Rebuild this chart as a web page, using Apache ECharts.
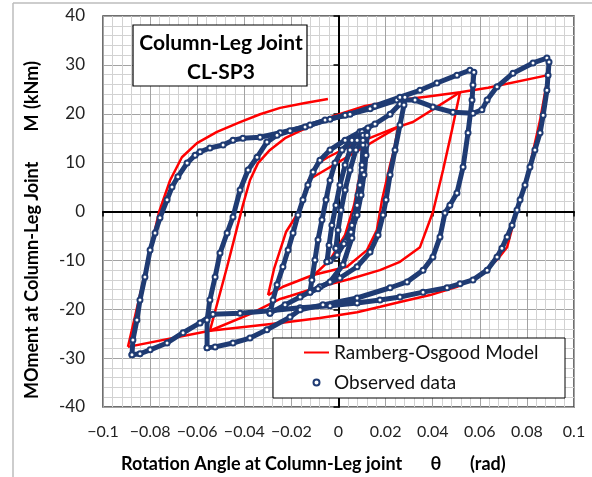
<!DOCTYPE html>
<html>
<head>
<meta charset="utf-8">
<script src="https://cdn.jsdelivr.net/npm/echarts@6/dist/echarts.min.js"></script>
<style>
  html, body { margin: 0; padding: 0; background: #fff; }
  #chart { width: 592px; height: 477px; }
</style>
</head>
<body>
<div id="chart"></div>
<script>
// axis ticks
const thetaTickLabels = ['\u22120.1', '\u22120.08', '\u22120.06', '\u22120.04', '\u22120.02', '0', '0.02', '0.04', '0.06', '0.08', '0.1']
const momentTickLabels = ['-40', '-30', '-20', '-10', '0', '10', '20', '30', '40']

// Ramberg-Osgood model branches [theta (rad), M (kNm)]
const modelOuterLoading = [[-0.0894, -27.7], [-0.083, -14.4], [-0.0762, -0.1], [-0.0715, 6.4], [-0.0665, 11.1], [-0.0601, 14.0], [-0.0516, 16.3], [-0.0418, 18.3], [-0.0333, 19.9], [-0.0248, 21.2], [-0.0142, 22.2], [-0.0045, 23.0]]
const modelOuterUnloading = [[0.089, 27.9], [0.0856, 18.7], [0.0813, 9.5], [0.0758, 0.3], [0.0716, -7.3], [0.0673, -9.9], [0.0601, -13.0], [0.0503, -15.4], [0.0389, -17.1], [0.0261, -18.5], [0.0177, -19.5], [0.0079, -20.6], [-0.0079, -21.8], [-0.0248, -22.8], [-0.0546, -24.4], [-0.0894, -27.7]]
const modelMidLoading = [[-0.0546, -24.4], [-0.0473, -11.3], [-0.0406, 1.3], [-0.0376, 6.4], [-0.0342, 9.9], [-0.0291, 12.6], [-0.0227, 15.0], [-0.0163, 16.5], [-0.0023, 19.5], [0.0113, 21.6], [0.0261, 22.8], [0.0389, 23.6], [0.0516, 24.4], [0.0635, 25.3], [0.089, 27.9]]
const modelMidUnloading = [[0.0516, 24.4], [0.0482, 16.7], [0.0444, 8.5], [0.0401, -0.1], [0.0346, -7.3], [0.0261, -10.3], [0.0176, -12.0], [0.0049, -13.8], [-0.0079, -15.4], [-0.0206, -17.3], [-0.0248, -17.9], [-0.0376, -21.0], [-0.0546, -24.4]]
const modelSmallLoading = [[-0.0299, -17.1], [-0.0274, -11.8], [-0.0223, -4.2], [-0.0172, -0.3], [-0.013, 6.0], [-0.0087, 9.9], [-0.0045, 11.1], [0.0057, 13.6], [0.0142, 15.2], [0.024, 17.1], [0.0316, 18.3], [0.0418, 21.4], [0.0516, 24.4]]
const modelSmallUnloading = [[0.0253, 17.3], [0.0236, 12.6], [0.0219, 9.5], [0.0185, 2.4], [0.0163, -3.8], [0.0121, -7.9], [0.0036, -11.3], [-0.0108, -13.0], [-0.0236, -15.4], [-0.0299, -17.1]]
const modelChord = [[0.0253, 17.3], [-0.013, 6.4]]
const modelInnerUnloading = [[0.0117, 13.6], [0.0091, 7.5], [0.0066, 1.3], [0.0028, -4.8], [-0.0036, -9.9], [-0.0117, -13.6]]

// observed data, one array per cycle
const obsCycle5 = [[-0.0877, -29.3], [-0.0873, -26.3], [-0.0856, -22.2], [-0.0843, -18.1], [-0.0822, -13.4], [-0.08, -7.9], [-0.0779, -4.4], [-0.0758, -1.3], [-0.0728, 2.4], [-0.0707, 5.0], [-0.0682, 7.1], [-0.0643, 9.9], [-0.0609, 11.5], [-0.0588, 12.2], [-0.0546, 13.0], [-0.049, 13.6], [-0.0448, 14.6], [-0.0406, 15.0], [-0.0333, 15.2], [-0.0248, 16.1], [-0.0142, 17.3], [-0.0057, 18.7], [0.0028, 19.7], [0.0134, 21.0], [0.0248, 22.8], [0.0325, 22.8], [0.0401, 21.4], [0.0486, 20.3], [0.0571, 20.1], [0.0609, 20.8], [0.0631, 22.8], [0.0673, 25.5], [0.0741, 28.3], [0.0826, 30.4], [0.0885, 31.4], [0.0894, 30.6], [0.089, 27.9], [0.0885, 24.8], [0.0869, 19.7], [0.0856, 16.1], [0.0834, 12.6], [0.0813, 9.1], [0.0792, 5.4], [0.0771, 2.4], [0.0758, 0.3], [0.0737, -2.8], [0.0716, -5.2], [0.0694, -7.5], [0.0673, -9.3], [0.0631, -12.0], [0.0571, -14.0], [0.0516, -14.8], [0.0461, -15.6], [0.0359, -16.5], [0.0261, -17.5], [0.0176, -18.1], [0.0079, -18.7], [-0.0036, -19.3], [-0.0163, -19.7], [-0.0291, -20.3], [-0.0418, -20.8], [-0.0533, -21.0], [-0.0588, -22.8], [-0.066, -24.8], [-0.0728, -26.9], [-0.08, -28.3], [-0.0843, -29.1], [-0.0877, -29.3]]
const obsCycle4 = [[-0.0558, -27.9], [-0.0558, -22.2], [-0.0546, -18.1], [-0.0524, -13.4], [-0.0503, -8.5], [-0.0473, -4.4], [-0.0448, -1.1], [-0.0418, 4.4], [-0.0384, 8.5], [-0.0346, 11.1], [-0.0304, 14.2], [-0.0261, 15.6], [-0.0206, 16.5], [-0.0121, 17.7], [-0.0036, 18.9], [0.0049, 19.9], [0.0155, 21.6], [0.0261, 23.4], [0.0346, 24.8], [0.0418, 26.3], [0.0503, 27.9], [0.0558, 28.9], [0.0575, 28.5], [0.0571, 25.9], [0.0567, 22.8], [0.055, 16.1], [0.0529, 9.1], [0.0503, 3.8], [0.0473, 1.3], [0.0452, -0.3], [0.0431, -5.2], [0.0401, -9.3], [0.0359, -12.0], [0.0291, -14.4], [0.0219, -15.6], [0.0079, -17.7], [-0.0066, -19.1], [-0.0163, -20.1], [-0.0206, -21.6], [-0.0304, -24.2], [-0.0376, -25.9], [-0.0448, -26.9], [-0.0524, -27.7], [-0.0558, -27.9]]
const obsCycle3 = [[-0.0291, -20.8], [-0.0278, -18.1], [-0.0261, -15.0], [-0.0236, -11.3], [-0.0214, -7.9], [-0.0193, -4.4], [-0.0172, -0.7], [-0.0151, 2.4], [-0.013, 5.4], [-0.0108, 8.1], [-0.0079, 10.5], [-0.0036, 12.6], [0.0028, 14.6], [0.0091, 16.3], [0.0155, 17.9], [0.0219, 19.9], [0.0261, 22.0], [0.0282, 23.4], [0.0278, 21.8], [0.0261, 17.7], [0.024, 12.6], [0.0219, 7.5], [0.0202, 2.4], [0.0189, -0.7], [0.0168, -4.8], [0.0134, -8.3], [0.0079, -11.3], [0.0006, -13.6], [-0.0079, -15.4], [-0.0163, -17.5], [-0.0227, -19.1], [-0.0291, -20.8]]
const obsCycle2 = [[-0.0121, -16.5], [-0.0113, -14.0], [-0.01, -9.9], [-0.0087, -5.8], [-0.007, -1.7], [-0.0053, 2.4], [-0.0036, 6.4], [-0.0015, 9.9], [0.0015, 12.6], [0.0057, 14.6], [0.01, 16.3], [0.0125, 17.1], [0.0117, 13.6], [0.01, 8.5], [0.0083, 3.4], [0.007, -0.7], [0.0057, -5.4], [0.0019, -10.9], [-0.0036, -14.4], [-0.0087, -15.8], [-0.0121, -16.5]]
const obsCycle1a = [[-0.0049, -10.3], [-0.004, -6.9], [-0.0028, -2.8], [-0.0011, 1.3], [0.0006, 5.4], [0.0028, 9.5], [0.0049, 12.6], [0.0079, 14.6], [0.0104, 15.6], [0.0104, 13.6], [0.01, 9.5], [0.0091, 5.4], [0.0079, 1.3], [0.0057, -2.8], [0.0028, -6.2], [-0.0006, -8.9], [-0.0036, -10.1], [-0.0049, -10.3]]
const obsCycle1b = [[-0.0011, -7.5], [-0.0002, -3.8], [0.0011, 0.3], [0.0028, 4.4], [0.0049, 8.5], [0.0074, 12.6], [0.0104, 14.6], [0.0121, 15.6], [0.0117, 11.5], [0.0108, 7.5], [0.0096, 3.4], [0.0079, -0.7], [0.0053, -4.2], [0.0023, -6.6], [-0.0011, -7.5]]

const modelBranches = [modelOuterLoading, modelOuterUnloading, modelMidLoading, modelMidUnloading,
  modelSmallLoading, modelSmallUnloading, modelChord, modelInnerUnloading]
const obsCycles = [obsCycle5, obsCycle4, obsCycle3, obsCycle2, obsCycle1a, obsCycle1b]

const RED = '#FF0000'
const NAVY = '#1F3B73'
const FONT = 'Lato'

const chart = echarts.init(document.getElementById('chart'), null, { renderer: 'canvas' })

const series = []
modelBranches.forEach(d => {
  series.push({
    name: 'Ramberg-Osgood Model',
    type: 'line',
    data: d,
    symbol: 'none',
    lineStyle: { color: RED, width: 2.5 },
    itemStyle: { color: RED },
    z: 2,
    silent: true
  })
})
obsCycles.forEach(d => {
  series.push({
    name: 'Observed data',
    type: 'line',
    data: d,
    symbol: 'emptyCircle',
    symbolSize: 5,
    showAllSymbol: true,
    lineStyle: { color: NAVY, width: 5, join: 'round' },
    itemStyle: { color: NAVY, borderWidth: 1 },
    z: 3,
    silent: true
  })
})

chart.setOption({
  animation: false,
  grid: {
    left: 103,
    right: 18,
    top: 16,
    bottom: 70,
    show: true,
    backgroundColor: '#fff',
    borderColor: '#404040',
    borderWidth: 1.5
  },
  legend: {
    orient: 'vertical',
    left: 298,
    top: 338,
    itemWidth: 25,
    itemHeight: 6,
    itemGap: 11,
    z: 120,
    textStyle: { fontFamily: FONT, fontSize: 19, color: '#111' },
    data: [
      { name: 'Ramberg-Osgood Model', itemStyle: { opacity: 0 } },
      { name: 'Observed data', icon: 'emptyCircle', itemStyle: { borderWidth: 1.2 } }
    ]
  },
  xAxis: [{
    type: 'value',
    min: -0.1,
    max: 0.1,
    interval: 0.02,
    position: 'bottom',
    axisLine: { show: false, onZero: false },
    axisTick: { show: false },
    axisLabel: {
      margin: 17,
      fontFamily: FONT,
      fontSize: 16,
      color: '#222',
      formatter: v => thetaTickLabels[Math.round((v + 0.1) / 0.02)]
    },
    splitLine: { show: true, lineStyle: { color: '#a3a3a3', width: 1 } },
    minorTick: { show: false, splitNumber: 5 },
    minorSplitLine: { show: true, lineStyle: { color: '#d2d2d2', width: 1 } }
  }, {
    type: 'value',
    min: -0.1,
    max: 0.1,
    interval: 0.02,
    position: 'bottom',
    axisLine: { show: true, onZero: true, onZeroAxisIndex: 0, lineStyle: { color: '#000', width: 2 } },
    axisTick: { show: true, length: 5, lineStyle: { color: '#000', width: 1.5 } },
    axisLabel: { show: false },
    splitLine: { show: false }
  }],
  yAxis: [{
    type: 'value',
    min: -40,
    max: 40,
    interval: 10,
    position: 'left',
    axisLine: { show: false, onZero: false },
    axisTick: { show: false },
    axisLabel: {
      margin: 18,
      fontFamily: FONT,
      fontSize: 17,
      color: '#222',
      formatter: v => momentTickLabels[Math.round((v + 40) / 10)]
    },
    splitLine: { show: true, lineStyle: { color: '#a3a3a3', width: 1 } },
    minorTick: { show: false, splitNumber: 5 },
    minorSplitLine: { show: true, lineStyle: { color: '#d2d2d2', width: 1 } }
  }, {
    type: 'value',
    min: -40,
    max: 40,
    interval: 10,
    position: 'left',
    axisLine: { show: true, onZero: true, onZeroAxisIndex: 0, lineStyle: { color: '#000', width: 2 } },
    axisTick: { show: true, length: 5, lineStyle: { color: '#000', width: 1.5 } },
    axisLabel: { show: false },
    splitLine: { show: false }
  }],
  graphic: [
    // outer frame of the figure
    { type: 'line', z: 100, shape: { x1: 13, y1: 3, x2: 13, y2: 477 }, style: { stroke: '#bdbdbd', lineWidth: 1.5 } },
    { type: 'line', z: 100, shape: { x1: 13, y1: 3, x2: 592, y2: 3 }, style: { stroke: '#bdbdbd', lineWidth: 1.5 } },
    // title box
    { type: 'rect', z: 100, shape: { x: 133, y: 25, width: 174, height: 61 }, style: { fill: '#fff', stroke: '#000', lineWidth: 1.2 } },
    { type: 'text', z: 101, x: 221, y: 43, style: { text: 'Column-Leg Joint', fill: '#000', font: 'bold 21px Lato', textAlign: 'center', textVerticalAlign: 'middle' } },
    { type: 'text', z: 101, x: 221, y: 72, style: { text: 'CL-SP3', fill: '#000', font: 'bold 21px Lato', textAlign: 'center', textVerticalAlign: 'middle' } },
    // legend box
    { type: 'rect', z: 100, shape: { x: 273, y: 338, width: 292, height: 60 }, style: { fill: '#fff', stroke: '#000', lineWidth: 1 } },
    // axis titles
    { type: 'text', z: 101, x: 121, y: 464, style: { text: 'Rotation Angle at Column-Leg joint', fill: '#000', font: 'bold 18px Lato', textAlign: 'left', textVerticalAlign: 'middle' } },
    { type: 'text', z: 101, x: 436, y: 464, style: { text: '\u03b8', fill: '#000', font: 'bold 18px Lato', textAlign: 'center', textVerticalAlign: 'middle' } },
    { type: 'text', z: 101, x: 470, y: 464, style: { text: '(rad)', fill: '#000', font: 'bold 18px Lato', textAlign: 'left', textVerticalAlign: 'middle' } },
    { type: 'text', z: 101, x: 32, y: 399, rotation: Math.PI / 2, style: { text: 'MOment at Column-Leg Joint', fill: '#000', font: 'bold 18px Lato', textAlign: 'left', textVerticalAlign: 'middle' } },
    { type: 'text', z: 101, x: 32, y: 123, rotation: Math.PI / 2, style: { text: 'M', fill: '#000', font: 'bold 18px Lato', textAlign: 'center', textVerticalAlign: 'middle' } },
    { type: 'text', z: 101, x: 32, y: 109, rotation: Math.PI / 2, style: { text: '(kNm)', fill: '#000', font: 'bold 18px Lato', textAlign: 'left', textVerticalAlign: 'middle' } }
  ],
  series: series
})
</script>
</body>
</html>
